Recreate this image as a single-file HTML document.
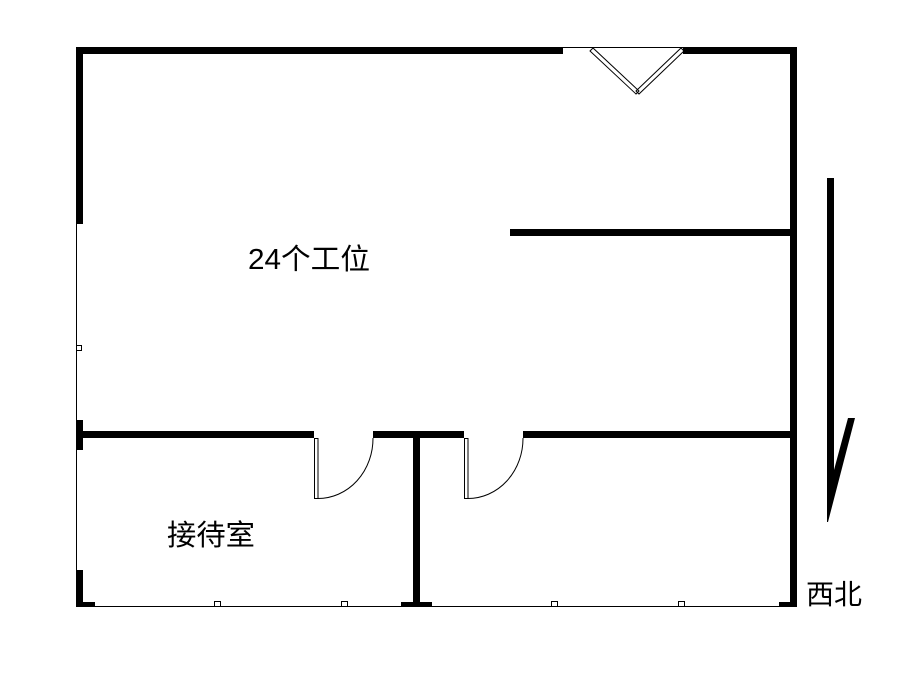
<!DOCTYPE html>
<html><head><meta charset="utf-8"><style>
html,body{margin:0;padding:0;background:#fff;}
svg{display:block;}
text{font-family:"Liberation Sans","Noto Sans CJK SC",sans-serif;fill:#000;}
</style></head><body>
<svg width="909" height="689" viewBox="0 0 909 689" xmlns="http://www.w3.org/2000/svg">
<g fill="#000">
<rect x="76" y="47" width="487" height="7"/>
<rect x="683" y="47" width="114" height="7"/>
<rect x="790" y="47" width="7" height="560"/>
<rect x="76" y="47" width="7" height="177"/>
<rect x="76" y="420" width="7" height="30"/>
<rect x="76" y="570" width="7" height="37"/>
<rect x="510" y="229" width="280" height="7"/>
<rect x="76" y="431" width="238" height="7"/>
<rect x="373" y="431" width="91" height="7"/>
<rect x="523" y="431" width="267" height="7"/>
<rect x="413" y="438" width="7" height="169"/>
<rect x="401" y="602" width="31" height="5"/>
<rect x="76" y="602" width="19" height="5"/>
<rect x="779" y="602" width="18" height="5"/>
</g>
<g fill="none" stroke="#000" stroke-width="1">
<line x1="563" y1="47.5" x2="683" y2="47.5"/>
<line x1="76.5" y1="224" x2="76.5" y2="607"/>
<line x1="76" y1="606.5" x2="797" y2="606.5"/>
<rect x="76.5" y="345.5" width="5" height="5"/>
<rect x="214.5" y="601.5" width="6" height="5"/>
<rect x="341.5" y="601.5" width="6" height="5"/>
<rect x="551.5" y="601.5" width="6" height="5"/>
<rect x="678.5" y="601.5" width="6" height="5"/>
<rect x="314.5" y="438.5" width="3.5" height="60"/>
<path d="M318 498.5 A55 60 0 0 0 373 438"/>
<rect x="464.5" y="438.5" width="3.5" height="60"/>
<path d="M468 498.5 A55 60 0 0 0 523 438"/>
<polygon points="590,51 593,48 639,91 636,94"/>
<polygon points="636,91 681,48 684,51 639,94"/>
</g>
<polygon fill="#000" points="827,178 834,178 834,470 848,418 855,418 828,522 827,522"/>
<text x="248" y="269" font-size="29" textLength="122" lengthAdjust="spacingAndGlyphs">24个工位</text>
<text x="167" y="545" font-size="29" textLength="88" lengthAdjust="spacingAndGlyphs">接待室</text>
<text x="806" y="604" font-size="28" textLength="56" lengthAdjust="spacingAndGlyphs">西北</text>
</svg>
</body></html>
